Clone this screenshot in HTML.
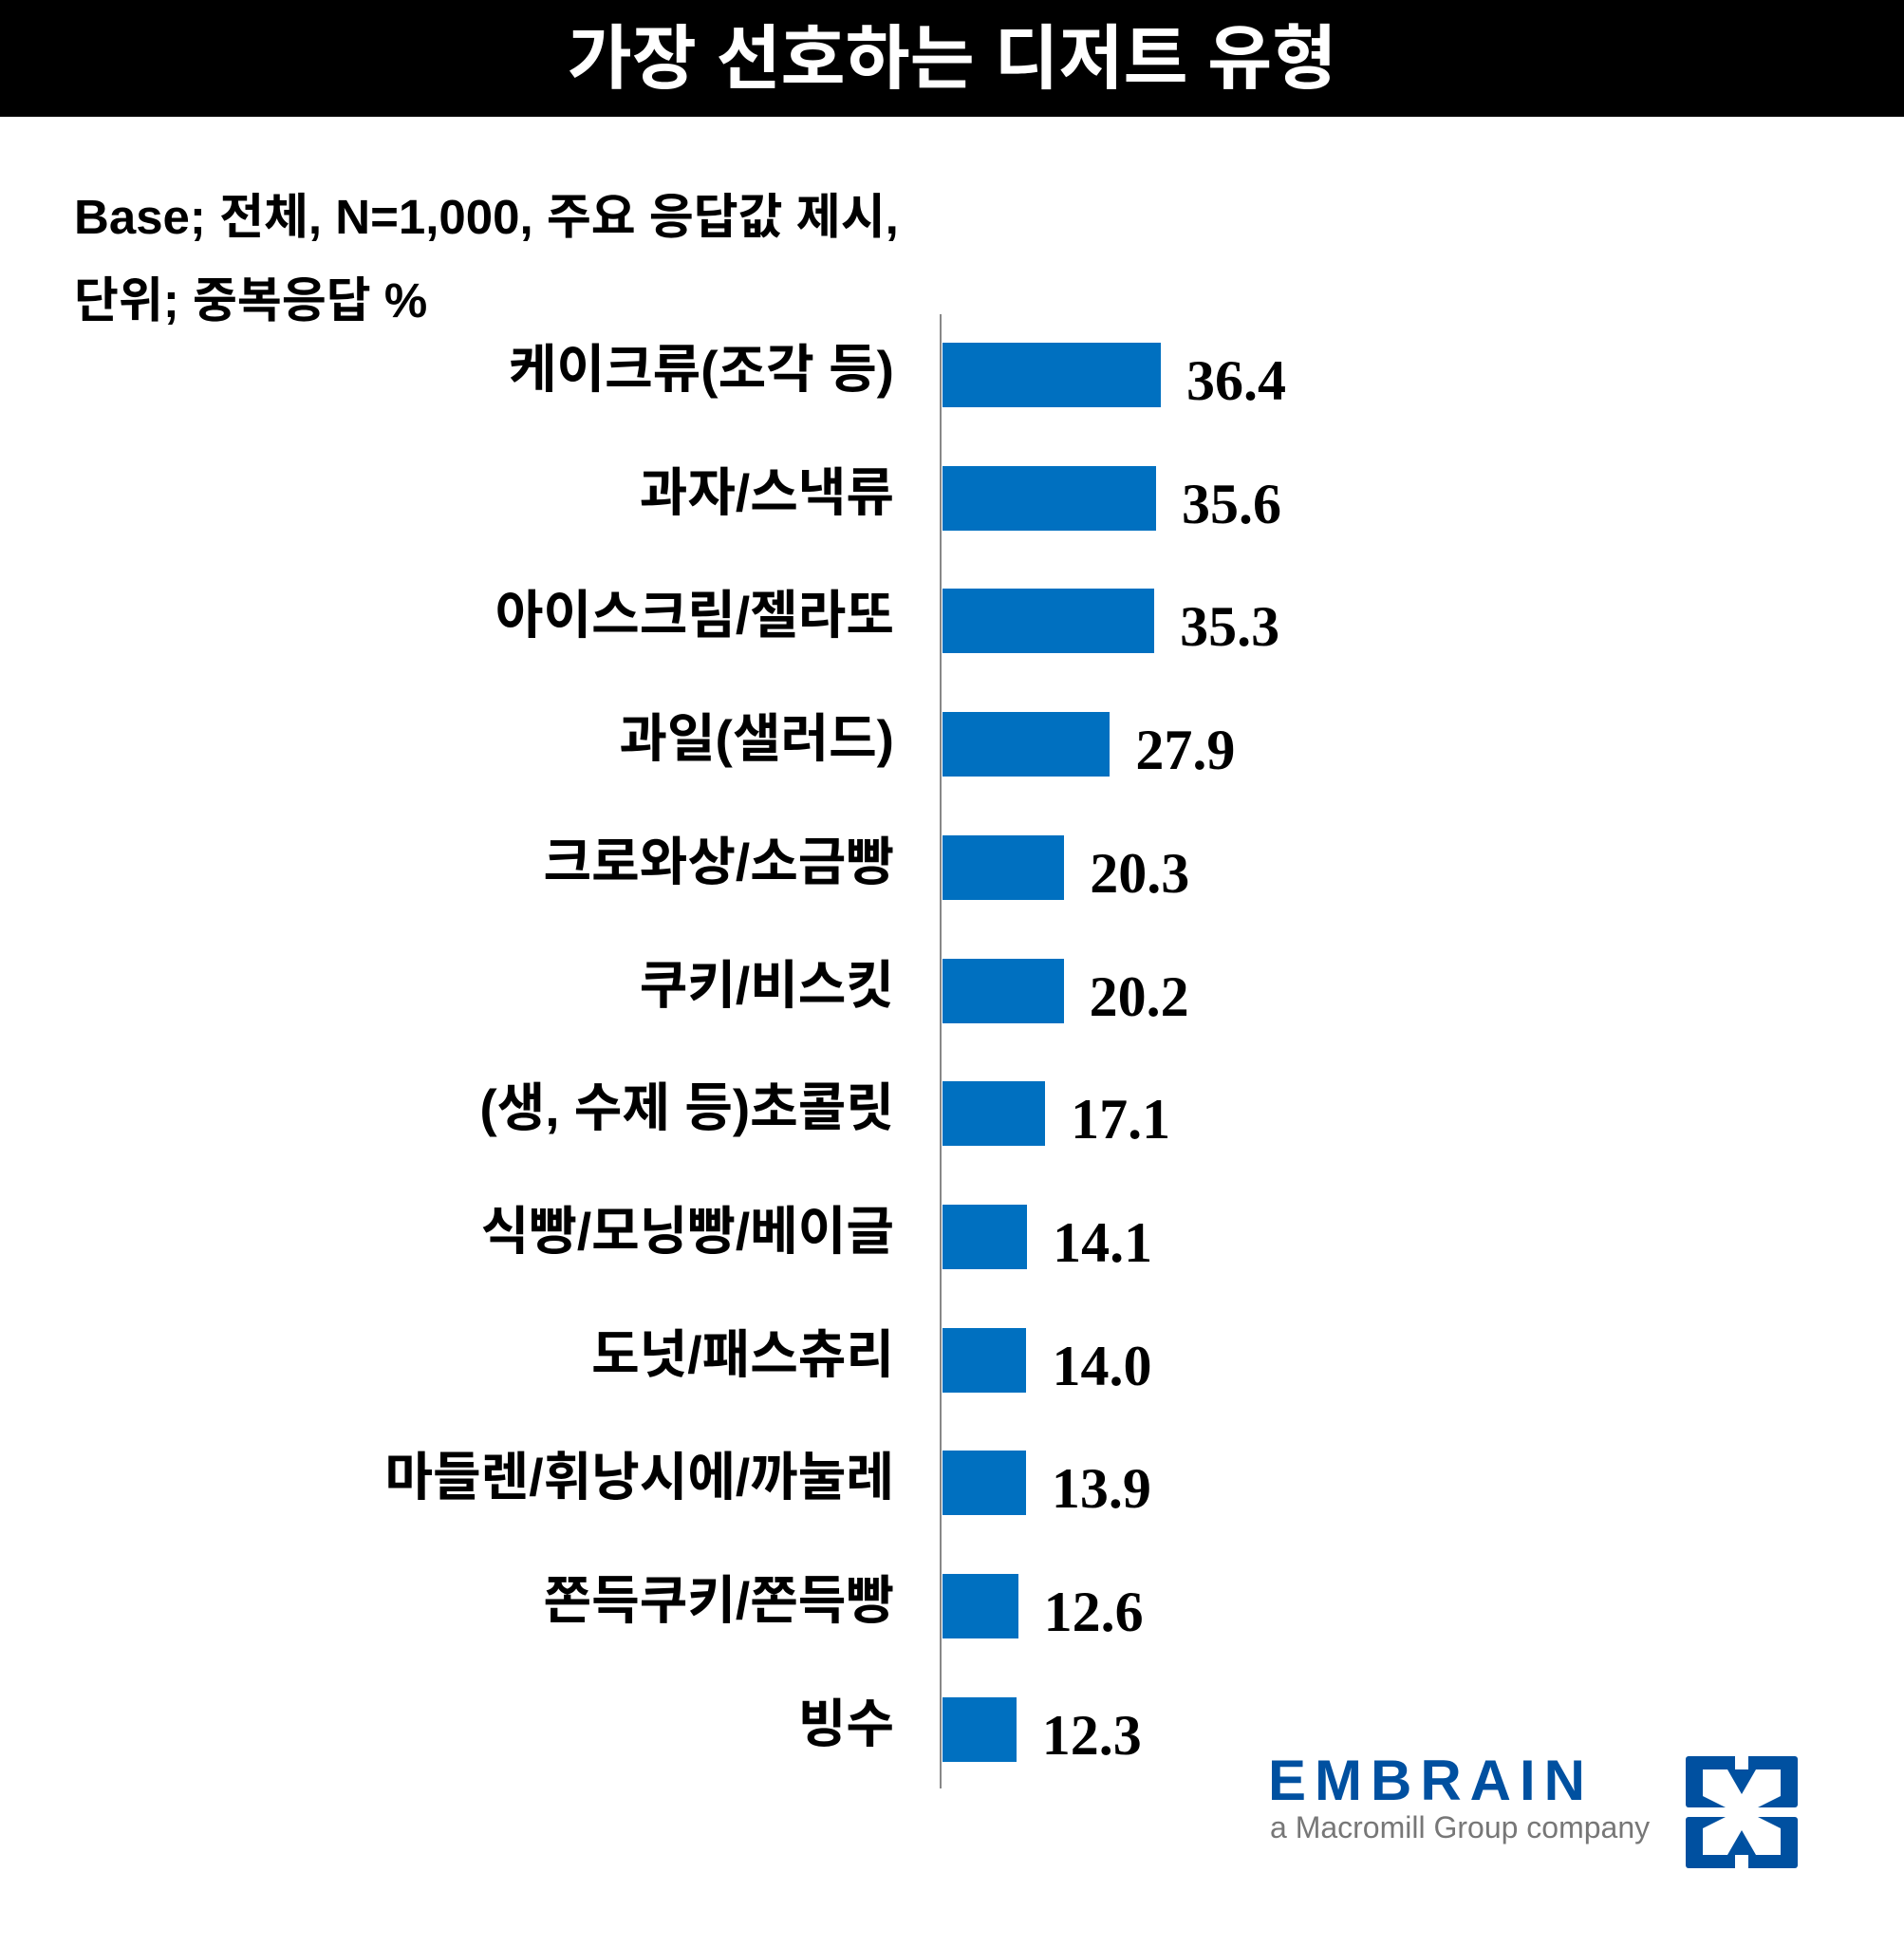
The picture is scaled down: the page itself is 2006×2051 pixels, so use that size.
<!DOCTYPE html>
<html><head><meta charset="utf-8"><style>
body{margin:0;width:2006px;height:2051px;background:#fff;position:relative;overflow:hidden;font-family:"Liberation Sans","Noto Sans CJK KR",sans-serif;}
.hdr{position:absolute;left:0;top:0;width:2006px;height:123px;background:#000;color:#fff;font-size:74px;font-weight:bold;text-align:center;line-height:123px;}
.t{position:absolute;white-space:nowrap;color:#000}
.lab{position:absolute;right:1064px;font-size:55px;font-weight:bold;white-space:nowrap;line-height:68px}
.bar{position:absolute;left:993px;height:68px;background:#0070c0}
.val{position:absolute;font-size:60px;font-weight:bold;line-height:68px;font-family:"Liberation Serif",serif}
</style></head><body>
<div class="hdr">가장 선호하는 디저트 유형</div>
<div class="t" style="left:78px;top:198px;font-size:51px;font-weight:bold;line-height:62px">Base; 전체, N=1,000, 주요 응답값 제시,</div>
<div class="t" style="left:78px;top:286px;font-size:51px;font-weight:bold;line-height:62px">단위; 중복응답 %</div>
<div style="position:absolute;left:990px;top:331px;width:2px;height:1553px;background:#888"></div>
<div id="c"></div>
<script>
var d=[["케이크류(조각 등)",36.4],["과자/스낵류",35.6],["아이스크림/젤라또",35.3],["과일(샐러드)",27.9],["크로와상/소금빵",20.3],["쿠키/비스킷",20.2],["(생, 수제 등)초콜릿",17.1],["식빵/모닝빵/베이글",14.1],["도넛/패스츄리",14.0],["마들렌/휘낭시에/까눌레",13.9],["쫀득쿠키/쫀득빵",12.6],["빙수",12.3]];
var h="";d.forEach(function(r,i){var c=395+i*129.7;var w=r[1]*6.32;
h+='<div class="lab" style="top:'+(c-40)+'px">'+r[0]+'</div>';
h+='<div class="bar" style="top:'+(c-34)+'px;width:'+w+'px"></div>';
h+='<div class="val" style="left:'+(993+w+27)+'px;top:'+(c-28)+'px">'+r[1].toFixed(1)+'</div>';});
document.getElementById("c").innerHTML=h;
</script>
<div class="t" style="left:1336px;top:1846px;font-size:60px;font-weight:bold;color:#0050a0;letter-spacing:9px;line-height:60px">EMBRAIN</div>
<div class="t" style="left:1338px;top:1906px;font-size:32px;color:#777;line-height:38px">a Macromill Group company</div>
<svg style="position:absolute;left:1776px;top:1850px" width="118" height="118" viewBox="0 0 118 118">
<g fill="#0050a0">
<rect x="0" y="0" width="118" height="54" rx="3"/>
<rect x="0" y="64" width="118" height="54" rx="3"/>
</g>
<g fill="#fff">
<polygon points="18,14 44,14 59,40 74,14 100,14 100,42 76,54 42,54 18,42"/>
<rect x="52" y="0" width="14" height="14"/>
<polygon points="18,104 44,104 59,78 74,104 100,104 100,76 76,64 42,64 18,76"/>
<rect x="52" y="104" width="14" height="14"/>
</g>
</svg>
</body></html>
